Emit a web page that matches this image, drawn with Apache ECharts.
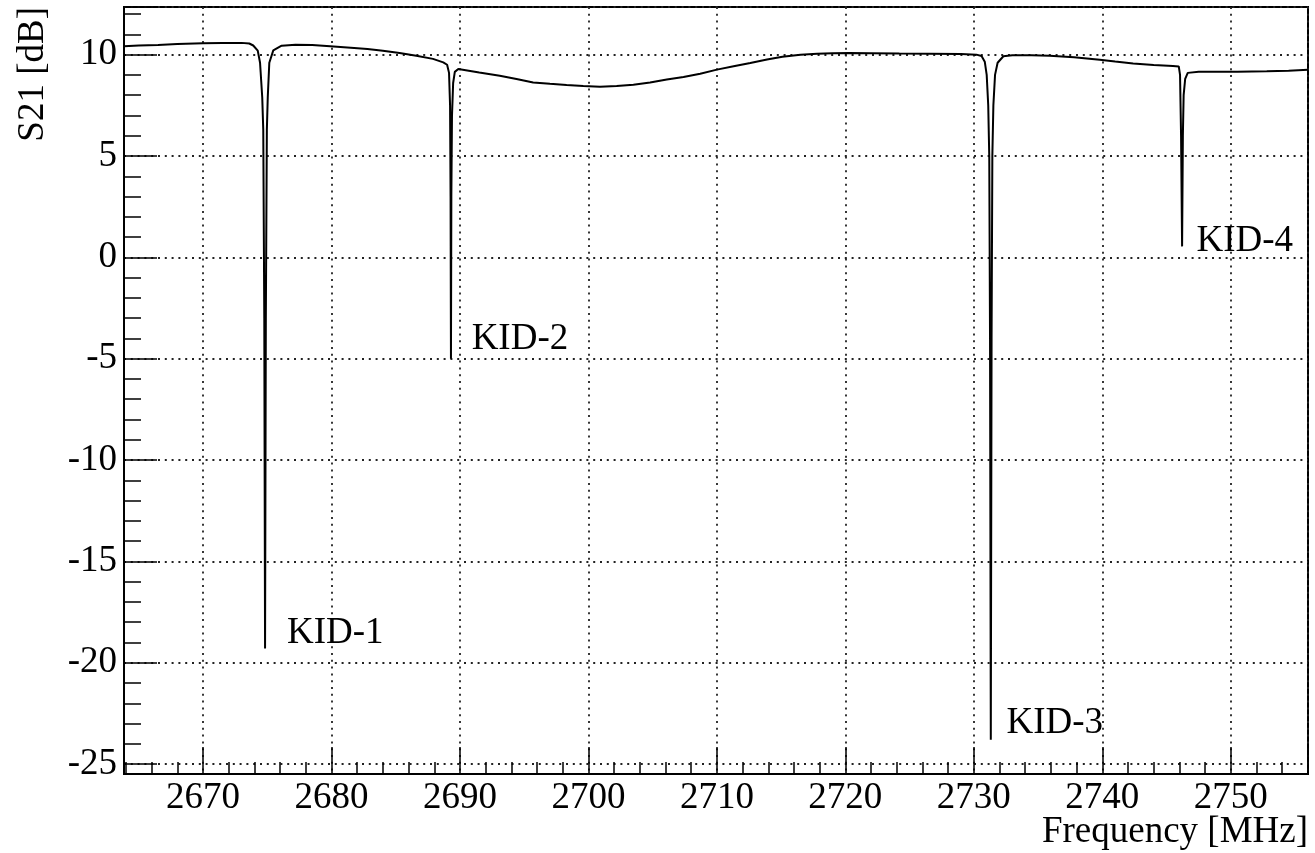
<!DOCTYPE html>
<html><head><meta charset="utf-8">
<script src="https://cdn.jsdelivr.net/npm/echarts@6.0.0/dist/echarts.min.js"></script>
<style>html,body{margin:0;padding:0;background:#fff}#c{width:1315px;height:853px}</style>
</head><body><div id="c"></div>
<script>
const freqMHz = [
 2663.85, 2665.0, 2666.5, 2668.0, 2670.0, 2671.5, 2673.0, 2673.6, 2673.91, 2674.26,
 2674.44, 2674.61, 2674.69, 2674.77, 2674.83, 2674.89, 2674.97, 2675.04, 2675.16, 2675.47,
 2676.12, 2677.2, 2678.5, 2679.9, 2681.5, 2682.8, 2684.0, 2685.3, 2686.6, 2687.9,
 2688.7, 2689.0, 2689.15, 2689.23, 2689.27, 2689.3, 2689.33, 2689.38, 2689.47, 2689.6,
 2689.87, 2691.5, 2693.1, 2694.4, 2695.7, 2697.0, 2698.3, 2699.6, 2700.9, 2702.2,
 2703.5, 2704.8, 2706.1, 2707.4, 2708.7, 2710.0, 2711.3, 2712.6, 2713.9, 2715.1,
 2716.5, 2717.8, 2719.0, 2720.3, 2722.0, 2724.2, 2726.5, 2729.0, 2730.2, 2730.6,
 2730.85, 2731.0, 2731.12, 2731.2, 2731.26, 2731.32, 2731.38, 2731.44, 2731.52, 2731.65,
 2731.85, 2732.3, 2733.0, 2734.5, 2735.9, 2737.8, 2739.8, 2741.0, 2742.4, 2744.0,
 2745.5, 2745.95, 2746.05, 2746.13, 2746.21, 2746.27, 2746.33, 2746.45, 2746.65, 2746.8,
 2747.5, 2748.9, 2750.5, 2752.8, 2754.5, 2756.0
];
const s21dB = [
 10.41, 10.45, 10.48, 10.52, 10.56, 10.58, 10.58, 10.55, 10.45, 10.2,
 9.6, 7.9, 6.3, -3.0, -19.3, -3.0, 6.3, 7.9, 9.6, 10.21,
 10.44, 10.49, 10.47, 10.41, 10.34, 10.28, 10.19, 10.08, 9.95, 9.79,
 9.62, 9.5, 9.1, 7.5, 3.0, -5.0, 3.0, 7.0, 8.6, 9.15,
 9.29, 9.12, 8.96, 8.8, 8.63, 8.56, 8.5, 8.45, 8.42, 8.45,
 8.52, 8.62, 8.77, 8.9, 9.06, 9.26, 9.43, 9.59, 9.76, 9.9,
 9.99, 10.04, 10.07, 10.08, 10.07, 10.05, 10.04, 10.03, 10.0, 9.93,
 9.65, 9.0, 7.5, 5.0, -4.0, -23.8, -4.0, 5.0, 7.5, 9.0,
 9.6, 9.92, 9.97, 9.97, 9.95, 9.87, 9.75, 9.66, 9.56, 9.49,
 9.44, 9.42, 9.0, 6.0, 0.54, 6.0, 8.0, 8.8, 9.1, 9.17,
 9.15, 9.15, 9.16, 9.18, 9.21, 9.26
];
const kidNames = ['KID-1', 'KID-2', 'KID-3', 'KID-4'];
const kidLabelFreq = [2676.54, 2690.91, 2732.54, 2747.33];
const kidLabelDb = [-18.53, -4.02, -22.97, 0.79];
const xTickLabels = [2670, 2680, 2690, 2700, 2710, 2720, 2730, 2740, 2750];
const yTickLabels = [-25, -20, -15, -10, -5, 0, 5, 10];
const xTitle = 'Frequency [MHz]';
const yTitle = 'S21 [dB]';

const FONT = 'Liberation Serif';
const chart = echarts.init(document.getElementById('c'), null, {renderer: 'canvas'});
const curve = freqMHz.map((f, i) => [f, s21dB[i]]);
const kidPts = kidNames.map((n, i) => ({name: n, value: [kidLabelFreq[i], kidLabelDb[i]]}));
function pick(list) {
  return v => list.some(t => Math.abs(t - v) < 1e-6) ? String(v) : '';
}
const grid = {left: 124, right: 7, top: 7, bottom: 79, containLabel: false,
  show: true, borderColor: '#000', borderWidth: 2, backgroundColor: '#fff'};
chart.setOption({
  animation: false,
  backgroundColor: '#fff',
  grid: grid,
  xAxis: {
    type: 'value', min: 2663.85, max: 2756.01, splitNumber: 9,
    axisLine: {show: true, onZero: false, lineStyle: {color: '#000', width: 2}},
    axisTick: {show: true, inside: true, length: 27, lineStyle: {color: '#000', width: 1.5}},
    minorTick: {show: true, splitNumber: 5, length: 12, lineStyle: {color: '#000', width: 1.5}},
    axisLabel: {show: true, margin: 6, color: '#000', fontFamily: FONT, fontSize: 37,
      formatter: pick(xTickLabels)},
    splitLine: {show: true, lineStyle: {color: '#222', width: 1.8, type: [2, 4.8]}},
    minorSplitLine: {show: false}
  },
  yAxis: {
    type: 'value', min: -25.49, max: 12.35, splitNumber: 7,
    axisLine: {show: true, onZero: false, lineStyle: {color: '#000', width: 2}},
    axisTick: {show: true, inside: true, length: 33, lineStyle: {color: '#000', width: 1.5}},
    minorTick: {show: true, splitNumber: 5, length: 17, lineStyle: {color: '#000', width: 1.5}},
    axisLabel: {show: true, margin: 7, color: '#000', fontFamily: FONT, fontSize: 37,
      formatter: pick(yTickLabels)},
    splitLine: {show: true, lineStyle: {color: '#222', width: 1.8, type: [2, 4.8]}},
    minorSplitLine: {show: false}
  },
  series: [
    {type: 'line', data: curve, showSymbol: false, symbol: 'none',
     lineStyle: {color: '#000', width: 2}, z: 5, clip: true},
    {type: 'scatter', data: kidPts, symbolSize: 0, z: 6, itemStyle: {opacity: 1},
     label: {show: true, position: 'right', distance: 0, formatter: '{b}', opacity: 1,
       color: '#000', fontFamily: FONT, fontSize: 37, align: 'left', verticalAlign: 'middle'}}
  ],
  graphic: [
    {type: 'text', x: 1308, y: 832, z: 10,
     style: {text: xTitle, fill: '#000', font: '37px "' + FONT + '"', align: 'right', verticalAlign: 'middle'}},
    {type: 'text', x: 33, y: 7, rotation: Math.PI / 2, z: 10,
     style: {text: yTitle, fill: '#000', font: '37px "' + FONT + '"', align: 'right', verticalAlign: 'middle'}}
  ]
});
</script>
</body></html>
